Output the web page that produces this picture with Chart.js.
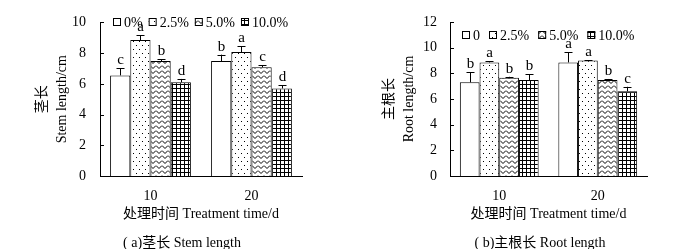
<!DOCTYPE html>
<html lang="zh">
<head>
<meta charset="UTF-8">
<title>茎长与主根长</title>
<script src="https://cdn.jsdelivr.net/npm/chart.js"></script>
<style>
  body { margin: 0; background: #fff; width: 676px; height: 249px; overflow: hidden; position: relative; }
  .panel { position: absolute; top: 0; width: 338px; height: 249px; }
  .caption { position: absolute; top: 231px; width: 200px; text-align: center;
             font: 14px "Liberation Serif", "Noto Sans CJK SC", serif; color: #000; white-space: nowrap; }
</style>
</head>
<body>
<div class="panel" style="left:0">
  <canvas id="stemChart" width="338" height="249"></canvas>
  <div class="caption" style="left:82px">( a)茎长 Stem length</div>
</div>
<div class="panel" style="left:338px">
  <canvas id="rootChart" width="338" height="249"></canvas>
  <div class="caption" style="left:102px">( b)主根长 Root length</div>
</div>
<script>
// treatment time (days)
const categories = ["10", "20"];

// stem length, cm
const stemLabels = ["0%", "2.5%", "5.0%", "10.0%"];
const stem0 = [6.55, 7.48];
const stem25 = [8.85, 8.07];
const stem50 = [7.48, 7.08];
const stem100 = [6.1, 5.7];
const stemErr0 = [0.45, 0.42];
const stemErr25 = [0.3, 0.37];
const stemErr50 = [0.12, 0.14];
const stemErr100 = [0.22, 0.2];
const stemSig0 = ["c", "b"];
const stemSig25 = ["a", "a"];
const stemSig50 = ["b", "c"];
const stemSig100 = ["d", "d"];

// root length, cm
const rootLabels = ["0", "2.5%", "5.0%", "10.0%"];
const root0 = [7.3, 8.85];
const root25 = [8.85, 9.0];
const root50 = [7.65, 7.48];
const root100 = [7.48, 6.6];
const rootErr0 = [0.8, 0.78];
const rootErr25 = [0.08, 0.03];
const rootErr50 = [0.08, 0.08];
const rootErr100 = [0.45, 0.35];
const rootSig0 = ["b", "a"];
const rootSig25 = ["a", "a"];
const rootSig50 = ["b", "b"];
const rootSig100 = ["b", "c"];

const FONT = "'Liberation Serif', 'Noto Sans CJK SC', serif";

function makePattern(kind) {
  const c = document.createElement("canvas");
  const g = c.getContext("2d");
  if (kind === "dots") {
    c.width = 6; c.height = 8;
    g.fillStyle = "#fff"; g.fillRect(0, 0, 6, 8);
    g.fillStyle = "#000";
    g.fillRect(1, 1, 1, 1);
    g.fillRect(4, 5, 1, 1);
  } else if (kind === "zigzag") {
    c.width = 6; c.height = 5;
    g.fillStyle = "#fff"; g.fillRect(0, 0, 6, 5);
    g.strokeStyle = "#000"; g.lineWidth = 1;
    g.beginPath();
    g.moveTo(0, 0.5); g.lineTo(3, 3.5); g.lineTo(6, 0.5);
    g.stroke();
  } else if (kind === "grid") {
    c.width = 4; c.height = 4;
    g.fillStyle = "#fff"; g.fillRect(0, 0, 4, 4);
    g.fillStyle = "#000";
    g.fillRect(0, 0, 4, 1);
    g.fillRect(0, 0, 1, 4);
  } else {
    c.width = 2; c.height = 2;
    g.fillStyle = "#fff"; g.fillRect(0, 0, 2, 2);
  }
  return g.createPattern(c, "repeat");
}

const fills = [makePattern("plain"), makePattern("dots"), makePattern("zigzag"), makePattern("grid")];

// upper error bars, significance letters, inward ticks and legend
const extrasPlugin = {
  id: "extras",
  afterDatasetsDraw(chart, args, opts) {
    const ctx = chart.ctx;
    const y = chart.scales.y;
    ctx.save();
    ctx.strokeStyle = "#000";
    ctx.fillStyle = "#000";
    ctx.lineWidth = 1;
    chart.data.datasets.forEach((ds, di) => {
      chart.getDatasetMeta(di).data.forEach((bar, i) => {
        const top = y.getPixelForValue(ds.data[i] + ds.err[i]);
        const x = Math.round(bar.x) + 0.5;
        ctx.beginPath();
        ctx.moveTo(x, bar.y);
        ctx.lineTo(x, top);
        ctx.moveTo(x - 4, Math.round(top) + 0.5);
        ctx.lineTo(x + 4, Math.round(top) + 0.5);
        ctx.stroke();
        ctx.font = "15px " + FONT;
        ctx.textAlign = "center";
        ctx.textBaseline = "alphabetic";
        ctx.fillText(ds.sig[i], x, top - 4);
      });
    });
    // inward ticks on y axis
    const area = chart.chartArea;
    y.ticks.forEach(t => {
      const py = Math.round(y.getPixelForValue(t.value)) + 0.5;
      ctx.beginPath();
      ctx.moveTo(area.left, py);
      ctx.lineTo(area.left + 4, py);
      ctx.stroke();
    });
    // legend inside plot
    ctx.font = "14px " + FONT;
    ctx.textAlign = "left";
    ctx.textBaseline = "middle";
    let lx = opts.x;
    chart.data.datasets.forEach(ds => {
      ctx.fillStyle = ds.backgroundColor;
      ctx.fillRect(lx, opts.y - 4, 8, 8);
      ctx.strokeRect(lx + 0.5, opts.y - 3.5, 7, 7);
      ctx.fillStyle = "#000";
      ctx.fillText(ds.label, lx + 11, opts.y + 1);
      lx += 11 + ctx.measureText(ds.label).width + opts.gap;
    });
    ctx.restore();
  }
};

function buildDatasets(labels, values, errs, sigs) {
  return labels.map((lab, k) => ({
    label: lab,
    data: values[k],
    err: errs[k],
    sig: sigs[k],
    backgroundColor: fills[k],
    borderColor: "#000",
    borderWidth: 1,
    categoryPercentage: 0.8,
    barPercentage: 1.0
  }));
}

function makeChart(id, datasets, cfg) {
  return new Chart(document.getElementById(id), {
    type: "bar",
    data: { labels: categories, datasets: datasets },
    plugins: [extrasPlugin],
    options: {
      responsive: false,
      animation: false,
      layout: { padding: { left: 0, right: cfg.padRight, top: 22, bottom: 23 } },
      plugins: {
        legend: { display: false },
        tooltip: { enabled: false },
        extras: { x: cfg.legendX, y: cfg.legendY, gap: cfg.legendGap }
      },
      scales: {
        x: {
          grid: { display: false, drawTicks: false },
          border: { color: "#000", width: 1 },
          ticks: { color: "#000", padding: 12, font: { family: FONT, size: 14 } },
          title: {
            display: true,
            text: "处理时间 Treatment time/d",
            color: "#000",
            font: { family: FONT, size: 14 },
            padding: { top: 0, bottom: 3 }
          },
          afterFit: s => { s.height = 50; }
        },
        y: {
          min: 0,
          max: cfg.yMax,
          grid: { display: false, drawTicks: false },
          border: { color: "#000", width: 1 },
          ticks: { stepSize: 2, color: "#000", padding: cfg.tickPad, font: { family: FONT, size: 14 } },
          title: {
            display: true,
            text: cfg.yTitle,
            color: "#000",
            font: { family: FONT, size: 14, lineHeight: 1.4 },
            padding: { top: cfg.titlePad, bottom: 0 }
          },
          afterFit: s => { s.width = cfg.axisLeft; }
        }
      }
    }
  });
}

makeChart("stemChart",
  buildDatasets(stemLabels,
    [stem0, stem25, stem50, stem100],
    [stemErr0, stemErr25, stemErr50, stemErr100],
    [stemSig0, stemSig25, stemSig50, stemSig100]),
  { yMax: 10, yTitle: ["茎长", "Stem length/cm"], axisLeft: 100, padRight: 36,
    tickPad: 14, titlePad: 33, legendX: 113, legendY: 22, legendGap: 6 });

makeChart("rootChart",
  buildDatasets(rootLabels,
    [root0, root25, root50, root100],
    [rootErr0, rootErr25, rootErr50, rootErr100],
    [rootSig0, rootSig25, rootSig50, rootSig100]),
  { yMax: 12, yTitle: ["主根长", "Root length/cm"], axisLeft: 112, padRight: 29,
    tickPad: 13, titlePad: 42, legendX: 124, legendY: 35, legendGap: 9 });
</script>
</body>
</html>
